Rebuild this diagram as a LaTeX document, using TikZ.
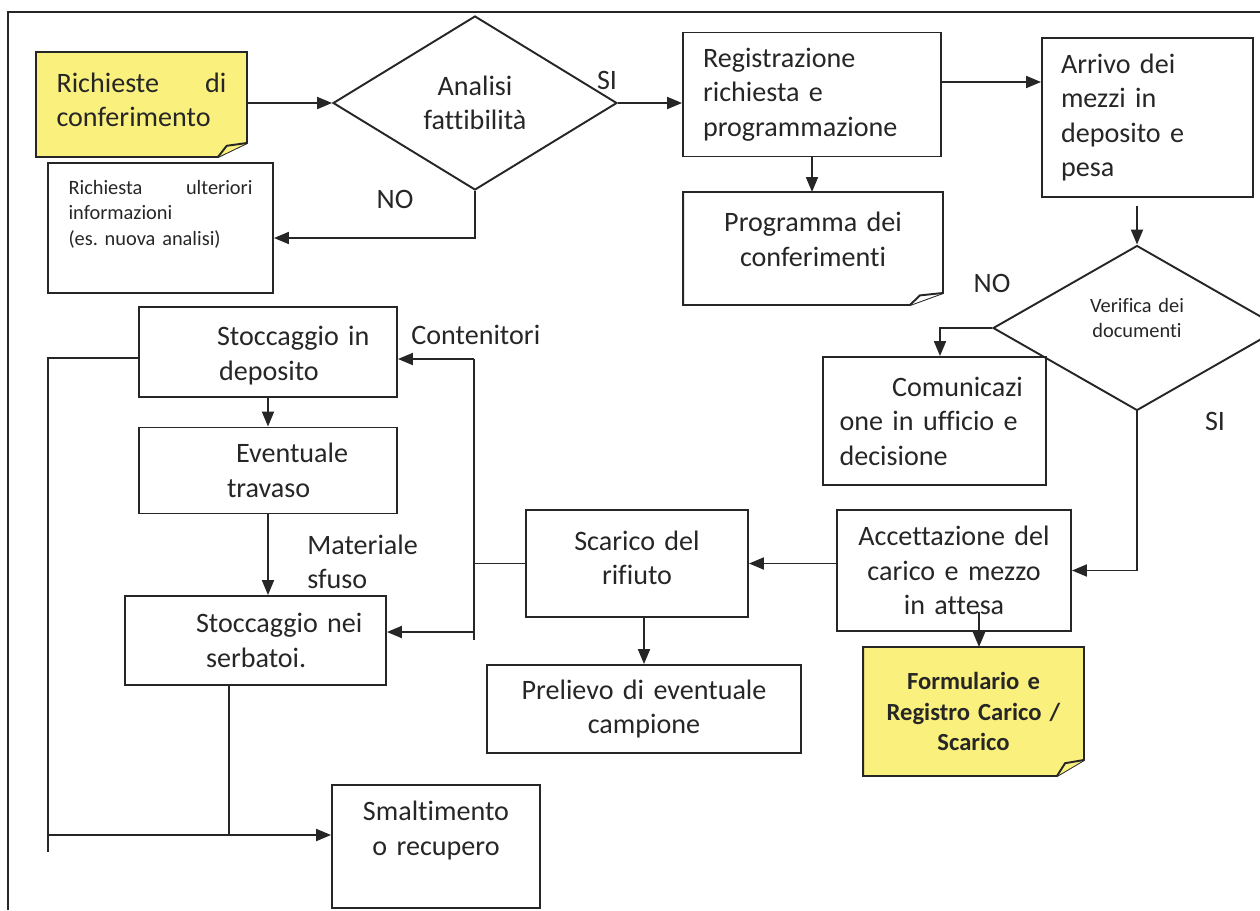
\documentclass[tikz,border=0pt]{standalone}
\usepackage{fontspec}
\setmainfont{Carlito}[Ligatures=NoCommon]
\usetikzlibrary{arrows.meta,shapes.geometric,backgrounds}
\definecolor{notey}{RGB}{249,240,125}
\definecolor{ink}{RGB}{38,38,38}
\newcommand{\lift}[1]{\par\vspace{#1}\hrule height 0pt}
\frenchspacing

\begin{document}
\begin{tikzpicture}[x=0.02cm,y=-0.02cm]
    \tikzset{line/.style={draw=ink, line width=1.1pt},
        arr/.style={line, -{Triangle[length=0.3cm,width=0.24cm]}},
        box/.style={line, rectangle, inner sep=0.1cm, text=ink, font=\fontsize{16}{19.6}\selectfont},
        note/.style={box, draw=none, outer sep=0pt},
        small/.style={font=\fontsize{11.6}{14.6}\selectfont},
        dec/.style={line, diamond, inner sep=0pt, text=ink, align=center, font=\fontsize{16}{19.6}\selectfont},
        lbl/.style={text=ink, inner sep=0pt, font=\fontsize{16}{19.6}\selectfont}}

    \def\foldnote#1#2#3#4{
        \begin{scope}[on background layer]
            \draw[line, fill=#2] (#1.north west) -- (#1.north east) -- ([yshift=#4]#1.south east) -- ([xshift=-#3]#1.south east) -- (#1.south west) -- cycle;
            \draw[line, fill=#2, line join=round] ([xshift=-#3]#1.south east) -- ([xshift=-0.7*#3, yshift=0.8*#4]#1.south east) -- ([yshift=#4]#1.south east);
        \end{scope}
    }

    \useasboundingbox (0,0) rectangle (1260,910);
    \draw[line] (8,910) -- (8,12) -- (1260,12);

    \node[note, minimum width=4.22cm, minimum height=2.1cm, text width=3.4cm, align=left] (rich) at (141.5,104.5) {Richieste \hfill di\\conferimento\lift{0.18cm}};
    \node[box, small, minimum width=4.5cm, minimum height=2.6cm, text width=3.68cm, align=left] (info) at (160.5,228) {Richiesta \hfill ulteriori\\informazioni\\(es. nuova analisi)\lift{0.56cm}};
    \node[dec, aspect=1.6, minimum width=5.68cm, minimum height=3.48cm] (analisi) at (475,103) {Analisi\\fattibilità};
    \node[box, minimum width=5.16cm, minimum height=2.48cm, text width=4.36cm, align=left] (reg) at (812,94.5) {Registrazione\\richiesta e\\programmazione};
    \node[note, minimum width=5.2cm, minimum height=2.26cm, text width=4.8cm, align=center] (prog) at (813,248.5) {Programma dei\\conferimenti\lift{0.36cm}};
    \node[box, minimum width=4.22cm, minimum height=3.18cm, text width=3.46cm, align=left] (arrivo) at (1147.5,117.5) {Arrivo dei\\mezzi in\\deposito e\\pesa};
    \node[dec, small, aspect=1.75, minimum width=5.76cm, minimum height=3.3cm, text width=2cm] (verifica) at (1137,328) {Verifica dei\\documenti\lift{0.4cm}};
    \node[box, minimum width=4.46cm, minimum height=2.56cm, text width=3.8cm, align=left] (comun) at (934.5,421) {\hspace*{1.05cm}Comunicazi\\one in ufficio e\\decisione};
    \node[box, minimum width=4.68cm, minimum height=2.42cm, text width=4.4cm, align=center] (accett) at (954,570.5) {Accettazione del\\carico e mezzo\\in attesa};
    \node[note, minimum width=4.42cm, minimum height=2.58cm, text width=4.2cm, align=center, font=\fontsize{14}{17.6}\selectfont\bfseries] (form) at (973.5,711.5) {Formulario e\\Registro Carico /\\Scarico};
    \node[box, minimum width=4.44cm, minimum height=2.14cm, text width=4.2cm, align=center] (scarico) at (637,563.5) {Scarico del\\rifiuto\lift{0.22cm}};
    \node[box, minimum width=6.28cm, minimum height=1.76cm, text width=6cm, align=center] (prelievo) at (644,709) {Prelievo di eventuale\\campione};
    \node[box, minimum width=5.16cm, minimum height=1.8cm, text width=4.96cm, align=left] (stoc1) at (268,352) {\hspace*{1.46cm}Stoccaggio in\\\hspace*{1.5cm}deposito\lift{-0.14cm}};
    \node[box, minimum width=5.16cm, minimum height=1.72cm, text width=4.96cm, align=left] (travaso) at (268,470.5) {\hspace*{1.84cm}Eventuale\\\hspace*{1.66cm}travaso};
    \node[box, minimum width=5.22cm, minimum height=1.78cm, text width=5.02cm, align=left] (serb) at (255.5,640.5) {\hspace*{1.32cm}Stoccaggio nei\\\hspace*{1.52cm}serbatoi.};
    \node[box, minimum width=4.16cm, minimum height=2.46cm, text width=3.9cm, align=center] (smalt) at (436,846.5) {Smaltimento\\o recupero\lift{0.64cm}};

    \foldnote{rich}{notey}{0.58cm}{0.28cm}
    \foldnote{prog}{white}{0.66cm}{0.24cm}
    \foldnote{form}{notey}{0.54cm}{0.32cm}

    \node[lbl] (si1) at (607,80) {SI};
    \node[lbl] (no1) at (395,199) {NO};
    \node[lbl] (no2) at (992,283) {NO};
    \node[lbl] (si2) at (1215,421) {SI};
    \node[lbl, anchor=west] (cont) at (411,335) {Contenitori};
    \node[lbl, anchor=west, align=left] (mat) at (307,562) {Materiale\\sfuso};

    \draw[arr] (rich.east |- analisi.west) -- (analisi.west);
    \draw[arr] (analisi.east) -- (analisi.east -| reg.west);
    \draw[arr] (analisi.south) |- ([yshift=-0.2cm]info.east);
    \draw[arr] ([yshift=0.25cm]reg.east) -- ([yshift=0.25cm]reg.east -| arrivo.west);
    \draw[arr] (reg.south) -- (reg.south |- prog.north);
    \draw[arr, shorten <=0.16cm] (arrivo.south -| verifica.north) -- (verifica.north);
    \draw[arr] (verifica.west) -| ([xshift=0.11cm]comun.north);
    \draw[arr] (verifica.south) |- (accett.east);
    \draw[arr] (accett.west |- scarico.east) -- (scarico.east);
    \draw[arr] ([xshift=0.5cm,yshift=0.4cm]accett.south) -- ([xshift=0.5cm]accett.south |- form.north);
    \draw[arr] ([xshift=0.14cm]scarico.south) -- ([xshift=0.14cm]scarico.south |- prelievo.north);

    \coordinate (ctop) at (474,359);
    \coordinate (cmid) at (474,632);
    \coordinate (cbot) at (474,640);
    \draw[line] (ctop) -- (cbot);
    \draw[line] (scarico.west) -- (scarico.west -| ctop);
    \draw[arr] (ctop) -- (ctop -| stoc1.east);
    \draw[arr] (cmid) -- (cmid -| serb.east);

    \draw[arr] (stoc1.south) -- (travaso.north);
    \draw[arr] (travaso.south) -- (travaso.south |- serb.north);

    \coordinate (lbot) at (48,852);
    \coordinate (ljoin) at (48,835);
    \draw[line] ([yshift=-0.12cm]stoc1.west) -| (lbot);
    \draw[arr] (ljoin) -- (ljoin -| smalt.west);
    \draw[line] ([xshift=-0.53cm]serb.south) -- ([xshift=-0.53cm]serb.south |- ljoin);
\end{tikzpicture}
\end{document}
